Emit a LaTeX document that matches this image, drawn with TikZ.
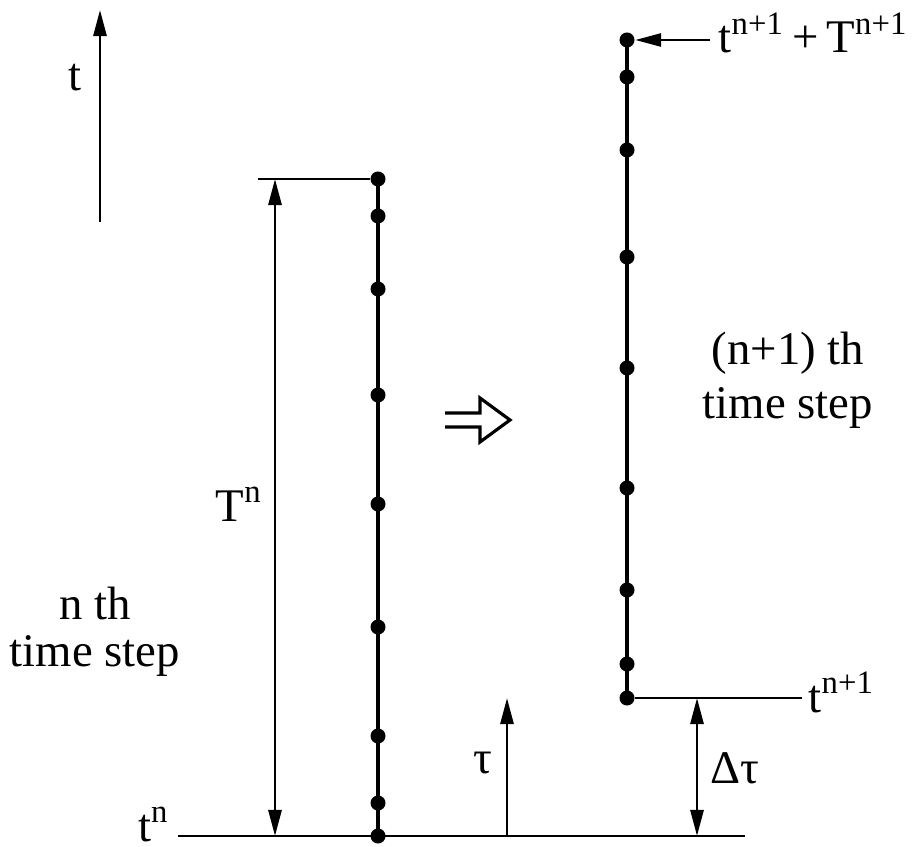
\documentclass[tikz,border=0pt]{standalone}
\usepackage{fontspec}
\setmainfont{Liberation Serif}
\usetikzlibrary{arrows.meta}

\begin{document}
\begin{tikzpicture}[
    x=0.01cm, y=-0.01cm,
    every node/.style={font=\fontsize{13.3}{15}\selectfont, inner sep=0pt},
    dot/.style={circle, fill, minimum size=0.15cm},
    col/.style={line width=1.3pt},
    rule/.style={line width=0.8pt},
    dimarr/.style={line width=0.8pt, -{Triangle[length=0.26cm, width=0.13cm]}},
    dimboth/.style={line width=0.8pt, {Triangle[length=0.26cm, width=0.13cm]}-{Triangle[length=0.26cm, width=0.13cm]}},
]
    \useasboundingbox (0,0) rectangle (913,846);

    % Time axis
    \coordinate (ax0) at (100,222);
    \coordinate (ax1) at (100,10);
    \draw[dimarr] (ax0) -- (ax1);
    \node (tlab) at (75,78) {t};

    % n th time step: left column of points
    \foreach \i/\y in {1/179, 2/216, 3/289, 4/395, 5/504, 6/627, 7/736, 8/803, 9/836}
        \node[dot] (a\i) at (378,\y) {};
    \draw[col] (a1.center) -- (a9.center);

    % (n+1) th time step: right column of points
    \foreach \i/\y in {1/40, 2/77, 3/150, 4/257, 5/368, 6/488, 7/590, 8/664, 9/698}
        \node[dot] (b\i) at (627,\y) {};
    \draw[col] (b1.center) -- (b9.center);

    % Base line t^n
    \coordinate (basel) at (178,836);
    \coordinate (baser) at (745,836);
    \draw[rule] (basel) -- (baser);
    \node[anchor=base east] (tn) at (170,841) {t\textsuperscript{n}};

    % T^n
    \coordinate (Ttick) at (258,179);
    \draw[rule] (Ttick) -- (a1);
    \coordinate (Ttop) at (275,179);
    \coordinate (Tbot) at (275,836);
    \draw[dimboth] (Ttop) -- (Tbot);
    \node[anchor=base west] (Tn) at (215,521) {T\textsuperscript{n}};

    % Line t^{n+1}
    \coordinate (tnpr) at (802,698);
    \draw[rule] (b9) -- (tnpr);
    \node[anchor=base west] (tnp) at (808,712) {t\textsuperscript{n+1}};

    % Top pointer
    \coordinate (topr) at (710,40);
    \draw[dimarr] (topr) -- (b1);
    \node[anchor=base west] (toplab) at (718,53) {t\textsuperscript{n+1}\,+\,T\textsuperscript{n+1}};

    % tau
    \coordinate (tau0) at (507,836);
    \coordinate (tau1) at (507,698);
    \draw[dimarr] (tau0) -- (tau1);
    \node (taulab) at (483,763) {τ};

    % Delta tau
    \coordinate (dt0) at (697,698);
    \coordinate (dt1) at (697,836);
    \draw[dimboth] (dt0) -- (dt1);
    \node (dtlab) at (735,768) {Δτ};

    % Step labels
    \node[align=center, font=\fontsize{13.3}{13.3pt}\selectfont, anchor=base] (nth) at (95,666) {n th\\time step};
    \node[align=center, font=\fontsize{13.3}{15.2pt}\selectfont, anchor=base] (npth) at (788,418) {(n+1) th\\time step};

    % Transition arrow
    \draw[line width=0.9pt, line join=miter] (445,413) -- (480,413) -- (480,398) -- (510,420) -- (480,442) -- (480,427) -- (445,427);

\end{tikzpicture}
\end{document}
